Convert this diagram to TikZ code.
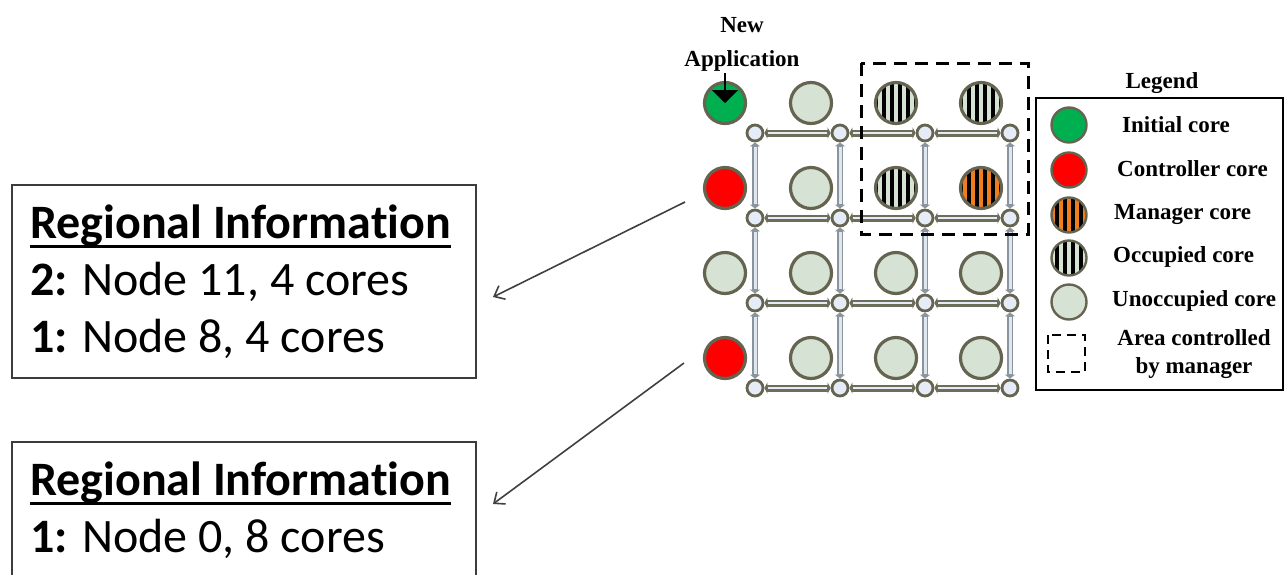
\documentclass[tikz,border=0pt]{standalone}
\usepackage{fontspec}
\setmainfont{Liberation Serif}
\newfontfamily\calibri[Ligatures=NoCommon]{Carlito}
\usetikzlibrary{arrows.meta}

\definecolor{coreedge}{RGB}{100,100,80}
\definecolor{corefree}{RGB}{214,227,212}
\definecolor{initgreen}{RGB}{0,176,80}
\definecolor{ctrlred}{RGB}{255,0,0}
\definecolor{mgrorange}{RGB}{240,125,30}
\definecolor{routerfill}{RGB}{230,236,247}
\definecolor{hlink}{RGB}{108,110,90}
\definecolor{vlinkedge}{RGB}{140,148,155}
\definecolor{vlinkfill}{RGB}{222,230,240}
\definecolor{boxedge}{RGB}{60,60,60}

% striped disc: centre x, centre y, radius, base colour
\newcommand\stripeddisc[4]{%
  \begin{scope}
    \clip (#1,#2) circle[radius=#3 pt];
    \fill[#4] (#1,#2) circle[radius=#3 pt];
    \foreach \k in {-20,-12,-4,4,12,20}
      \fill[black] ({#1+\k-2},{#2-#3}) rectangle ({#1+\k+2},{#2+#3});
  \end{scope}}

\begin{document}
\begin{tikzpicture}[x=1pt,y=-1pt,
  core/.style={circle, draw=coreedge, line width=3.2pt, minimum size=41pt, inner sep=0pt},
  lcore/.style={circle, draw=coreedge, line width=2.4pt, minimum size=35pt, inner sep=0pt},
  router/.style={circle, draw=coreedge, line width=2.8pt, fill=routerfill, minimum size=16pt, inner sep=0pt},
  hbar/.style={draw=hlink, line width=7pt, {Triangle[length=3pt,width=11pt]}-{Triangle[length=3pt,width=11pt]},
    postaction={draw=routerfill, line width=2.2pt, -, shorten <=4pt, shorten >=4pt}},
  vbar/.style={draw=vlinkedge, line width=6pt, {Triangle[length=4pt,width=10pt]}-{Triangle[length=4pt,width=10pt]},
    postaction={draw=vlinkfill, line width=3pt, -, shorten <=5pt, shorten >=5pt}},
  legtext/.style={anchor=west, inner sep=0pt, text height=15pt, text depth=4pt,
    font=\bfseries\fontsize{23}{27}\selectfont},
  infobox/.style={draw=boxedge, line width=1.8pt, inner sep=0pt},
  infotitle/.style={anchor=base west, inner sep=0pt, font=\calibri\bfseries\fontsize{48}{57}\selectfont},
  infoline/.style={anchor=base west, inner sep=0pt, font=\calibri\fontsize{48}{57}\selectfont},
  pointer/.style={draw=black!75, line width=1.6pt, -{Straight Barb[length=9pt,width=15pt]}}
]
\useasboundingbox (0,0) rectangle (1288,574);
\clip (0,0) rectangle (1288,574);

% ---------- regional information boxes ----------
\node[infobox, minimum width=464pt, minimum height=193pt] (box1) at (244,281.5) {};
\node[infotitle] (t1) at (30,238) {Regional Information};
\draw[line width=3pt] ([yshift=-8pt]t1.base west) -- ([yshift=-8pt]t1.base east);
\node[infoline] (l11) at (30,295) {\textbf{2:} Node 11, 4 cores};
\node[infoline] (l12) at (30,352) {\textbf{1:} Node 8, 4 cores};

\node[infobox, minimum width=464pt, minimum height=200pt] (box2) at (244,542) {};
\node[infotitle] (t2) at (30,495) {Regional Information};
\draw[line width=3pt] ([yshift=-8pt]t2.base west) -- ([yshift=-8pt]t2.base east);
\node[infoline] (l21) at (30,552) {\textbf{1:} Node 0, 8 cores};

% ---------- routers ----------
\foreach \r/\y in {1/133,2/218,3/303,4/388}
  \foreach \c/\x in {1/755,2/840,3/925,4/1010}
    \node[router] (r\r\c) at (\x,\y) {};

% ---------- links ----------
\foreach \r in {1,2,3,4}
  \foreach \c/\n in {1/2,2/3,3/4}
    \draw[hbar] (r\r\c) -- (r\r\n);
\foreach \r/\n in {1/2,2/3,3/4}
  \foreach \c in {1,2,3,4}
    \draw[vbar] (r\r\c) -- (r\n\c);

% ---------- cores ----------
\node[core, fill=initgreen] (c11) at (725,103) {};
\node[core, fill=corefree]  (c12) at (811,103) {};
\stripeddisc{896}{103}{21}{corefree}
\node[core] (c13) at (896,103) {};
\stripeddisc{981}{103}{21}{corefree}
\node[core] (c14) at (981,103) {};

\node[core, fill=ctrlred]   (c21) at (725,188) {};
\node[core, fill=corefree]  (c22) at (811,188) {};
\stripeddisc{896}{188}{21}{corefree}
\node[core] (c23) at (896,188) {};
\stripeddisc{981}{188}{21}{mgrorange}
\node[core] (c24) at (981,188) {};

\node[core, fill=corefree] (c31) at (725,273) {};
\node[core, fill=corefree] (c32) at (811,273) {};
\node[core, fill=corefree] (c33) at (896,273) {};
\node[core, fill=corefree] (c34) at (981,273) {};

\node[core, fill=ctrlred]  (c41) at (725,358) {};
\node[core, fill=corefree] (c42) at (811,358) {};
\node[core, fill=corefree] (c43) at (896,358) {};
\node[core, fill=corefree] (c44) at (981,358) {};

% ---------- area controlled by the manager ----------
\draw[black, line width=3pt, dash pattern=on 13pt off 8pt] (861,63) rectangle (1028,234);

% ---------- new application ----------
\node[align=center, inner sep=0pt, font=\bfseries\fontsize{23}{34}\selectfont] (newapp) at (742,44) {New\\Application};
\coordinate (appin) at (725,73);
\draw[black, line width=1.4pt, -{Triangle[length=13pt,width=26pt]}] (appin) -- (c11.center);

% ---------- pointers to the information boxes ----------
\coordinate (a1s) at (685,202);
\coordinate (a1e) at (493,297);
\coordinate (a2s) at (684,363);
\coordinate (a2e) at (493,504);
\draw[pointer] (a1s) -- (a1e);
\draw[pointer] (a2s) -- (a2e);

% ---------- legend ----------
\node[font=\bfseries\fontsize{23}{27}\selectfont, inner sep=0pt] (legtitle) at (1162,83) {Legend};
\node[draw=black, line width=1.8pt, minimum width=247pt, minimum height=292pt, inner sep=0pt] (legend) at (1159.5,244) {};

\node[lcore, fill=initgreen] (k1) at (1069,125) {};
\node[lcore, fill=ctrlred]   (k2) at (1069,170) {};
\stripeddisc{1069}{215}{17.5}{mgrorange}
\node[lcore] (k3) at (1069,215) {};
\stripeddisc{1069}{258}{17.5}{corefree}
\node[lcore] (k4) at (1069,258) {};
\node[lcore, fill=corefree]  (k5) at (1069,302) {};
\draw[black, line width=2.4pt, dash pattern=on 9pt off 6pt] (1048,335) rectangle (1085,372);

\node[legtext] (n1) at (1122,127) {Initial core};
\node[legtext] (n2) at (1117,171) {Controller core};
\node[legtext] (n3) at (1114,214) {Manager core};
\node[legtext] (n4) at (1113,257) {Occupied core};
\node[legtext] (n5) at (1112,301) {Unoccupied core};
\node[align=center, inner sep=0pt, font=\bfseries\fontsize{23}{28}\selectfont] (n6) at (1194,354) {Area controlled\\by manager};
\end{tikzpicture}
\end{document}
